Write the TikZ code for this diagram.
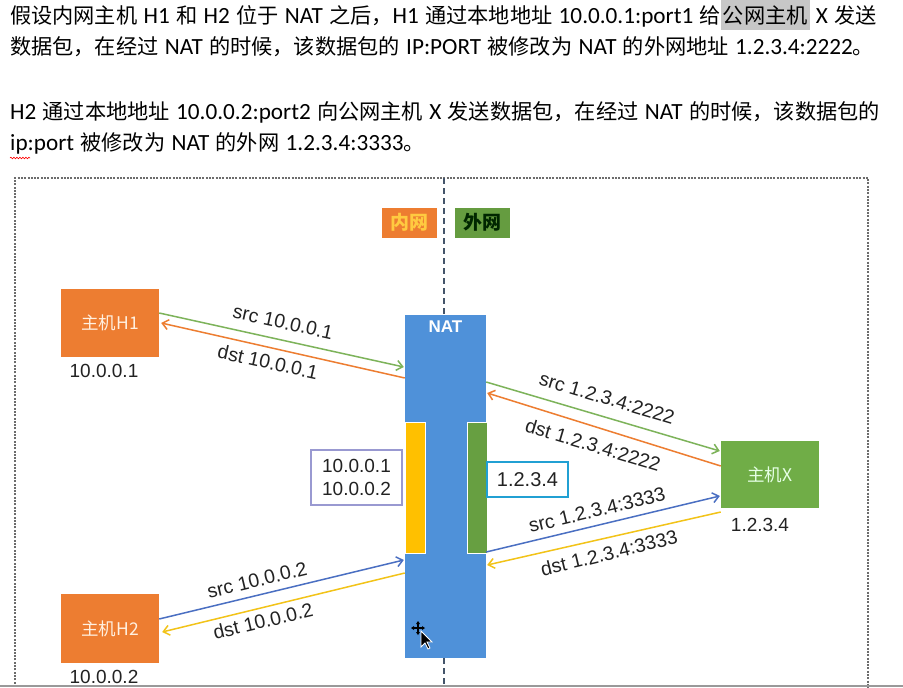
\documentclass[tikz,border=0pt]{standalone}
\usepackage{fontspec}
\setmainfont{Carlito}
\newfontfamily\cjk{Noto Sans CJK SC}
\newfontfamily\arial{Liberation Sans}
\usetikzlibrary{arrows.meta,decorations.pathmorphing}
\newcommand\zhc[1]{{\cjk\fontsize{21.2}{21.2}\selectfont #1}}
\newcommand\topfnt{\fontsize{23.2}{23.2}\selectfont\spaceskip=6.3pt\relax\xspaceskip=6.3pt\relax}
\newcommand\hlbox[1]{\smash{\setlength\fboxsep{0pt}\colorbox{black!22}{\kern2pt\zhc{#1}\kern2pt\rule[-7pt]{0pt}{30pt}}}}
\definecolor{orgA}{HTML}{ED7D31}
\definecolor{grnA}{HTML}{70AD47}
\definecolor{grnL}{HTML}{7DB35A}
\definecolor{bluA}{HTML}{4A6FC2}
\definecolor{yelA}{HTML}{FFC000}
\definecolor{yelL}{HTML}{F2C318}
\definecolor{natB}{HTML}{4F91D9}
\definecolor{dashB}{HTML}{44546A}
\definecolor{txtD}{HTML}{222222}
\begin{document}
\begin{tikzpicture}[x=1pt,y=-1pt,
  topline/.style={anchor=west,inner sep=0pt,font=\topfnt,text=black},
  hostbox/.style={fill=#1,minimum width=98pt,minimum height=68pt,inner sep=0pt,font=\cjk\fontsize{17.5}{17.5}\selectfont},
  iplabel/.style={font=\arial\fontsize{19}{19}\selectfont,text=txtD,inner sep=0pt},
  arrlabel/.style={font=\arial\fontsize{19.5}{19.5}\selectfont,text=txtD,inner sep=0pt},
  conn/.style={draw=#1,line width=1.5pt,-{Straight Barb[length=6pt,width=10pt]}},
  bar/.style={fill=#1,draw=white,line width=1pt,minimum width=20pt,minimum height=131pt,inner sep=0pt},
  addrbox/.style={draw=#1,line width=1.2pt,fill=white,inner sep=0pt,font=\arial\fontsize{19}{23.5}\selectfont,text=txtD,align=center},
  legend/.style={fill=#1,minimum width=55pt,minimum height=30pt,inner sep=0pt,font=\cjk\bfseries\fontsize{19}{19}\selectfont}
]
\useasboundingbox (0,0) rectangle (903,688);
\fill[white] (0,0) rectangle (903,688);
% top text
\node[topline] (t1) at (10,16) {\zhc{假设内网主机} H1 \zhc{和} H2 \zhc{位于} NAT \zhc{之后，}H1 \zhc{通过本地地址} 10.0.0.1:port1 \zhc{给}\hlbox{公网主机} X \zhc{发送}};
\node[topline] (t2) at (10,47) {\zhc{数据包，在经过} NAT \zhc{的时候，该数据包的} IP:PORT \zhc{被修改为} NAT \zhc{的外网地址} 1.2.3.4:2222\zhc{。}};
\node[topline] (t3) at (10,112) {H2 \zhc{通过本地地址} 10.0.0.2:port2 \zhc{向公网主机} X \zhc{发送数据包，在经过} NAT \zhc{的时候，该数据包的}};
\node[topline] (t4) at (10,143) {ip:port \zhc{被修改为} NAT \zhc{的外网} 1.2.3.4:3333\zhc{。}};
\draw[red,line width=0.6pt,decorate,decoration={snake,amplitude=0.8pt,segment length=3pt}] (10,158) -- (30,158);
% frame
\draw[gray!85!black,line width=2pt,dash pattern=on 2pt off 1.3pt] (15,700) -- (15,178) -- (868,178) -- (868,700);
\draw[dashB,line width=2pt,dash pattern=on 6pt off 4pt] (444,178) -- (444,688);
% legend
\node[legend=orgA,text=orange!55!yellow!75!white] (lin) at (409,222.5) {内网};
\node[legend=grnA!90!black,text=black!85!green] (lout) at (482,222.5) {外网};
% hosts
\node[hostbox=orgA,text=orange!12] (h1) at (110,323) {主机H1};
\node[hostbox=orgA,text=orange!12,minimum height=69pt] (h2) at (110,628.5) {主机H2};
\node[hostbox=grnA,text=green!10,minimum height=67pt] (hx) at (770,474.5) {主机X};
\node[iplabel] (ip1) at (104,371) {10.0.0.1};
\node[iplabel] (ip2) at (104,677) {10.0.0.2};
\node[iplabel] (ipx) at (760,525) {1.2.3.4};
% NAT
\node[fill=natB,minimum width=81pt,minimum height=343pt,inner sep=0pt] (nat) at (445.5,486.5) {};
\node[font=\arial\bfseries\fontsize{17}{17}\selectfont,text=white,inner sep=0pt] (natl) at (445.5,327) {NAT};
\node[bar=yelA] (yb) at (415,487.5) {};
\node[bar=grnA!92!black] (gb) at (477,487.5) {};
\node[addrbox=black!45!blue!40!white,minimum width=91pt,minimum height=55pt] (inb) at (356.5,477.5) {10.0.0.1\\10.0.0.2};
\node[addrbox=cyan!70!teal,minimum width=81pt,minimum height=35pt,font=\arial\fontsize{20}{20}\selectfont] (outb) at (527.5,479.5) {1.2.3.4};
% connectors
\draw[conn=grnL] ([yshift=10pt]h1.east) -- ([yshift=119.5pt,xshift=-1pt]nat.west);
\draw[conn=orgA] ([yshift=108.5pt]nat.west) -- ([xshift=2pt]h1.east);
\draw[conn=grnL] ([yshift=104.5pt]nat.east) -- ([yshift=23.5pt,xshift=-1pt]hx.west);
\draw[conn=orgA] ([yshift=8.5pt]hx.west) -- ([yshift=93.5pt,xshift=1pt]nat.east);
\draw[conn=bluA] ([yshift=-65.5pt]nat.east) -- ([yshift=-21.5pt,xshift=-1pt]hx.west);
\draw[conn=yelL] ([yshift=-37.5pt]hx.west) -- ([yshift=-78.5pt,xshift=1pt]nat.east);
\draw[conn=bluA] ([yshift=9.5pt]h2.east) -- ([yshift=-73.5pt,xshift=-1pt]nat.west);
\draw[conn=yelL] ([yshift=-86.5pt]nat.west) -- ([yshift=-3.5pt,xshift=3pt]h2.east);
% connector labels
\node[arrlabel,rotate=-12.5] (l1) at (283,322) {src 10.0.0.1};
\node[arrlabel,rotate=-12.5] (l2) at (268,362) {dst 10.0.0.1};
\node[arrlabel,rotate=-16.6] (l3) at (607,398) {src 1.2.3.4:2222};
\node[arrlabel,rotate=-16.6] (l4) at (593,445) {dst 1.2.3.4:2222};
\node[arrlabel,rotate=13.6] (l5) at (597,510) {src 1.2.3.4:3333};
\node[arrlabel,rotate=13.6] (l6) at (609,553) {dst 1.2.3.4:3333};
\node[arrlabel,rotate=13.5] (l7) at (257,580) {src 10.0.0.2};
\node[arrlabel,rotate=13.5] (l8) at (263,621) {dst 10.0.0.2};
% cursor
\begin{scope}[shift={(418,628)}]
  \draw[black,line width=1.2pt] (-5,0) -- (5,0) (0,-5) -- (0,5);
  \fill[black] (-7,0) -- (-4,-2) -- (-4,2) -- cycle (7,0) -- (4,-2) -- (4,2) -- cycle
               (0,-7) -- (-2,-4) -- (2,-4) -- cycle (0,7) -- (-2,4) -- (2,4) -- cycle;
  \filldraw[fill=black,draw=white,line width=0.8pt] (3,3) -- (3,19) -- (7,15) -- (10,21) -- (12,20) -- (9,14) -- (14,14) -- cycle;
\end{scope}
% window edge
\draw[black!40,line width=1.5pt] (0,686) -- (903,686);
\end{tikzpicture}
\end{document}
